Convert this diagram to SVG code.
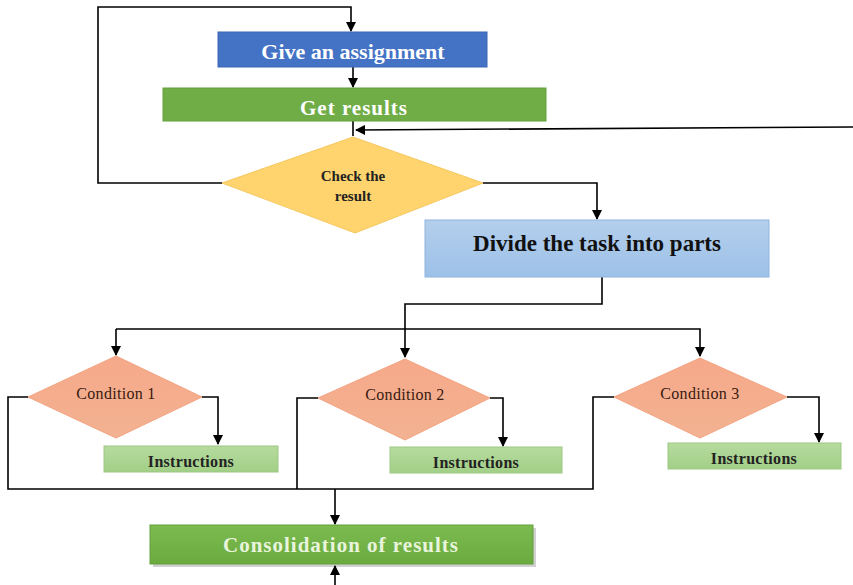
<svg xmlns="http://www.w3.org/2000/svg" width="853" height="585" viewBox="0 0 853 585">
<defs>
<marker id="ah" viewBox="0 0 10 10" refX="9" refY="5" markerWidth="10" markerHeight="10" markerUnits="userSpaceOnUse" orient="auto">
<path d="M0,0 L10,5 L0,10 z" fill="#000"/>
</marker>
<linearGradient id="gBlue" x1="0" y1="0" x2="0" y2="1"><stop offset="0" stop-color="#B4CFEC"/><stop offset="1" stop-color="#9DC1E8"/></linearGradient>
<linearGradient id="gGreen" x1="0" y1="0" x2="0" y2="1"><stop offset="0" stop-color="#7CBB4F"/><stop offset="1" stop-color="#6AAA3F"/></linearGradient>
<linearGradient id="gInstr" x1="0" y1="0" x2="0" y2="1"><stop offset="0" stop-color="#B6DB9E"/><stop offset="1" stop-color="#A2CF87"/></linearGradient>
<linearGradient id="gCond" x1="0" y1="0" x2="0" y2="1"><stop offset="0" stop-color="#F6A98A"/><stop offset="1" stop-color="#F2B291"/></linearGradient>
</defs>
<style>
.ln{fill:none;stroke:#000;stroke-width:1.6}
.t{font-family:"Liberation Serif","Times New Roman",serif;text-anchor:middle;dominant-baseline:central}
.w{fill:#fff;font-weight:bold}
.cond{fill:url(#gCond);stroke:#F4A482;stroke-width:1}
.ins{fill:url(#gInstr);stroke:#9CC883;stroke-width:1}
.ct{font-size:16px;fill:#3a1a10;letter-spacing:0.3px}
.it{font-size:16px;fill:#222;font-weight:bold;letter-spacing:0.3px}
</style>
<rect width="853" height="585" fill="#fff"/>
<g id="connectors">
<path class="ln" d="M222,183 H98 V7 H351 V31" marker-end="url(#ah)"/>
<path class="ln" d="M353,67 V87" marker-end="url(#ah)"/>
<path class="ln" d="M353,121 V136"/>
<path class="ln" d="M853,127 L356,130" marker-end="url(#ah)"/>
<path class="ln" d="M483,183 H597 V219" marker-end="url(#ah)"/>
<path class="ln" d="M602,277 V304 H405 V357" marker-end="url(#ah)"/>
<path class="ln" d="M116,329 H700 V356" marker-end="url(#ah)"/>
<path class="ln" d="M116,329 V355" marker-end="url(#ah)"/>
<path class="ln" d="M202,397 H218 V444" marker-end="url(#ah)"/>
<path class="ln" d="M490,398 H503 V446" marker-end="url(#ah)"/>
<path class="ln" d="M787,397 H819 V442" marker-end="url(#ah)"/>
<path class="ln" d="M28,397 H8 V489 H593 V397 H614"/>
<path class="ln" d="M318,398 H297 V489"/>
<path class="ln" d="M335,489 V524" marker-end="url(#ah)"/>
<path class="ln" d="M335,585 V566" marker-end="url(#ah)"/>
</g>
<g id="give">
<rect x="218" y="32" width="269" height="35" fill="#4472C4" stroke="#3A66B4" stroke-width="1"/>
<text class="t w" x="353" y="51" font-size="22">Give an assignment</text>
</g>
<g id="get">
<rect x="163" y="88" width="383" height="33" fill="#70AD47" stroke="#62A03C" stroke-width="1"/>
<text class="t w" x="354" y="108" font-size="21" letter-spacing="1">Get results</text>
</g>
<g id="check">
<polygon points="353,137 483,183 355,233 222,183" fill="#FFD46E" stroke="#F5C860" stroke-width="1"/>
<text class="t" x="353" y="176" font-size="15" font-weight="bold" fill="#222">Check the</text>
<text class="t" x="353" y="196" font-size="15" font-weight="bold" fill="#222">result</text>
</g>
<g id="divide">
<rect x="425" y="220" width="344" height="57" fill="url(#gBlue)" stroke="#8FB4DE" stroke-width="1"/>
<text class="t" x="597" y="243" font-size="23" font-weight="bold" fill="#111">Divide the task into parts</text>
</g>
<g id="cond1">
<polygon class="cond" points="116,356 202,397 116,438 28,397"/>
<text class="t ct" x="116" y="393">Condition 1</text>
</g>
<g id="instr1">
<rect class="ins" x="104" y="446" width="174" height="26"/>
<text class="t it" x="191" y="461">Instructions</text>
</g>
<g id="cond2">
<polygon class="cond" points="405,359 490,398 405,440 318,398"/>
<text class="t ct" x="405" y="394">Condition 2</text>
</g>
<g id="instr2">
<rect class="ins" x="390" y="447" width="172" height="26"/>
<text class="t it" x="476" y="462">Instructions</text>
</g>
<g id="cond3">
<polygon class="cond" points="700,358 787,397 700,438 614,397"/>
<text class="t ct" x="700" y="393">Condition 3</text>
</g>
<g id="instr3">
<rect class="ins" x="668" y="443" width="173" height="26"/>
<text class="t it" x="754" y="458">Instructions</text>
</g>
<g id="consolidation">
<rect x="153" y="528" width="383" height="39" fill="#000" opacity="0.18"/>
<rect x="150" y="525" width="383" height="39" fill="url(#gGreen)" stroke="#62A03C" stroke-width="1"/>
<text class="t" x="341" y="545" font-size="21" font-weight="bold" fill="#E8F4DC" letter-spacing="1">Consolidation of results</text>
</g>
</svg>
